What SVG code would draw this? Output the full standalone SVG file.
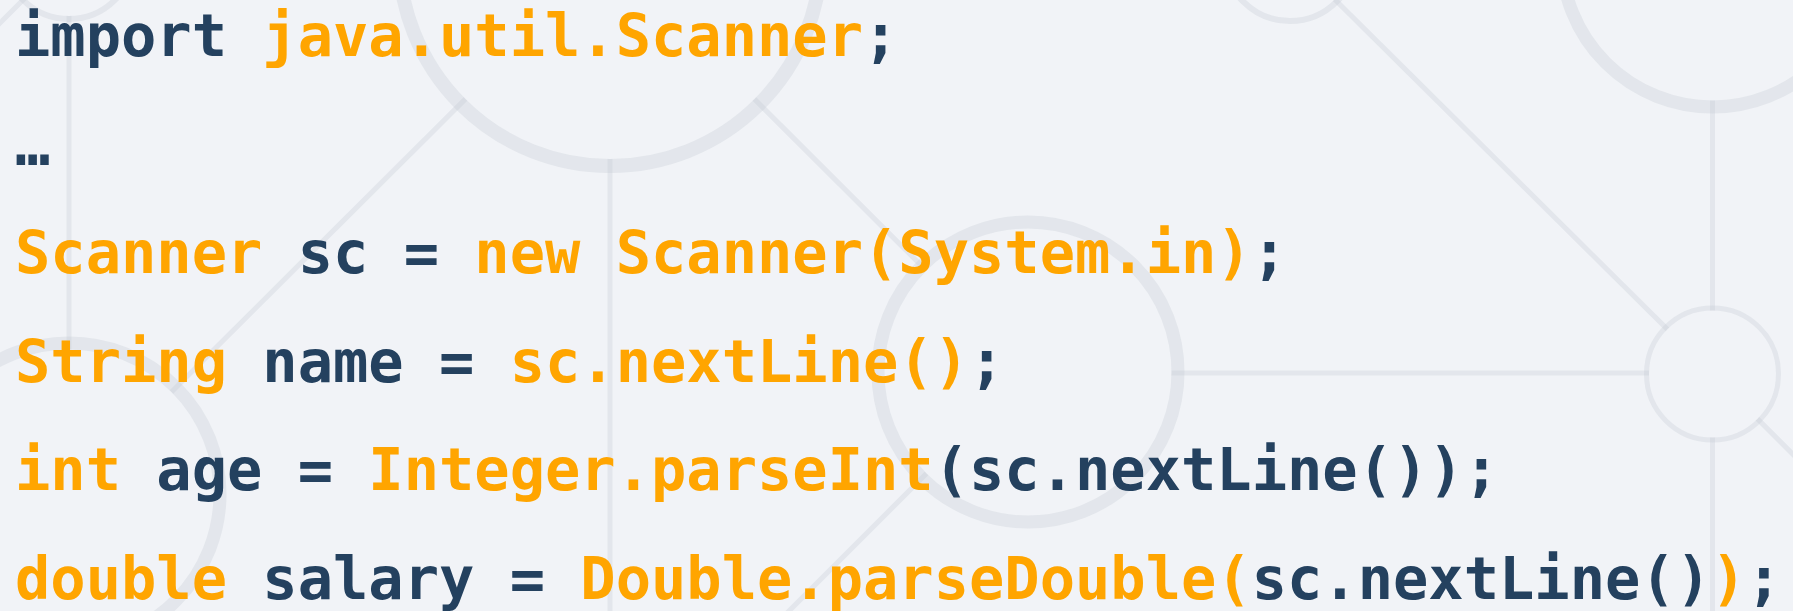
<svg xmlns="http://www.w3.org/2000/svg" width="1793" height="611" viewBox="0 0 1793 611">
  <style>
    .bg { fill: #F1F3F7; }
    .edge { stroke: #C8CDD5; stroke-opacity: 0.34; stroke-width: 5; fill: none; }
    .hole { fill: #F1F3F7; stroke: none; }
    .ring { fill: none; stroke: #C8CDD5; stroke-opacity: 0.34; }
    .thick { stroke-width: 13; }
    .thin { stroke-width: 6; }
    .code { font-family: "DejaVu Sans Mono", "Liberation Mono", monospace; font-weight: bold; font-size: 58.7px; }
    .k { fill: #24415F; }
    .o { fill: #FFA500; }
  </style>
  <rect class="bg" x="0" y="0" width="1793" height="611"/>

  <g id="connectors">
    <line class="edge" x1="69" y1="-46" x2="69" y2="494"/>
    <line class="edge" x1="69" y1="-46" x2="-200" y2="223"/>
    <line class="edge" x1="610" y1="-45" x2="69" y2="494"/>
    <line class="edge" x1="610" y1="-45" x2="1028" y2="372"/>
    <line class="edge" x1="610" y1="-45" x2="610" y2="700"/>
    <line class="edge" x1="1028" y1="373" x2="1713" y2="373"/>
    <line class="edge" x1="1028" y1="372" x2="600" y2="800"/>
    <line class="edge" x1="1290" y1="-45" x2="1712.5" y2="374"/>
    <line class="edge" x1="1712.5" y1="-44" x2="1712.5" y2="700"/>
    <line class="edge" x1="1712.5" y1="374" x2="2000" y2="661"/>
  </g>

  <g id="node-top-left">
    <circle class="hole" cx="69" cy="-46" r="62"/>
    <circle class="ring thin" cx="69" cy="-46" r="65"/>
  </g>
  <g id="node-top-big">
    <circle class="hole" cx="610" cy="-45" r="204"/>
    <circle class="ring" stroke-width="14" cx="610" cy="-45" r="211"/>
  </g>
  <g id="node-top-center">
    <circle class="hole" cx="1290" cy="-45" r="63"/>
    <circle class="ring thin" cx="1290" cy="-45" r="66"/>
  </g>
  <g id="node-top-right">
    <circle class="hole" cx="1712.5" cy="-44" r="144.5"/>
    <circle class="ring thick" cx="1712.5" cy="-44" r="151"/>
  </g>
  <g id="node-middle">
    <circle class="hole" cx="1028" cy="372" r="143.5"/>
    <circle class="ring thick" cx="1028" cy="372" r="150"/>
  </g>
  <g id="node-right">
    <circle class="hole" cx="1712.5" cy="374" r="63.5"/>
    <circle class="ring" stroke-width="5" cx="1712.5" cy="374" r="66"/>
  </g>
  <g id="node-bottom-left">
    <circle class="hole" cx="69" cy="494" r="144.5"/>
    <circle class="ring thick" cx="69" cy="494" r="151"/>
  </g>

  <g id="code" class="code" xml:space="preserve">
    <text x="15" y="55.5"><tspan class="k">import</tspan><tspan class="o"> java.util.Scanner</tspan><tspan class="k">;</tspan></text>
    <text x="15" y="164.5" class="k">…</text>
    <text x="15" y="273"><tspan class="o">Scanner</tspan><tspan class="k"> sc = </tspan><tspan class="o">new Scanner(System.in)</tspan><tspan class="k">;</tspan></text>
    <text x="15" y="381.5"><tspan class="o">String</tspan><tspan class="k"> name = </tspan><tspan class="o">sc.nextLine()</tspan><tspan class="k">;</tspan></text>
    <text x="15" y="490"><tspan class="o">int</tspan><tspan class="k"> age = </tspan><tspan class="o">Integer.parseInt</tspan><tspan class="k">(sc.nextLine());</tspan></text>
    <text x="15" y="598.5"><tspan class="o">double</tspan><tspan class="k"> salary = </tspan><tspan class="o">Double.parseDouble(</tspan><tspan class="k">sc.nextLine()</tspan><tspan class="o">)</tspan><tspan class="k">;</tspan></text>
  </g>
</svg>
